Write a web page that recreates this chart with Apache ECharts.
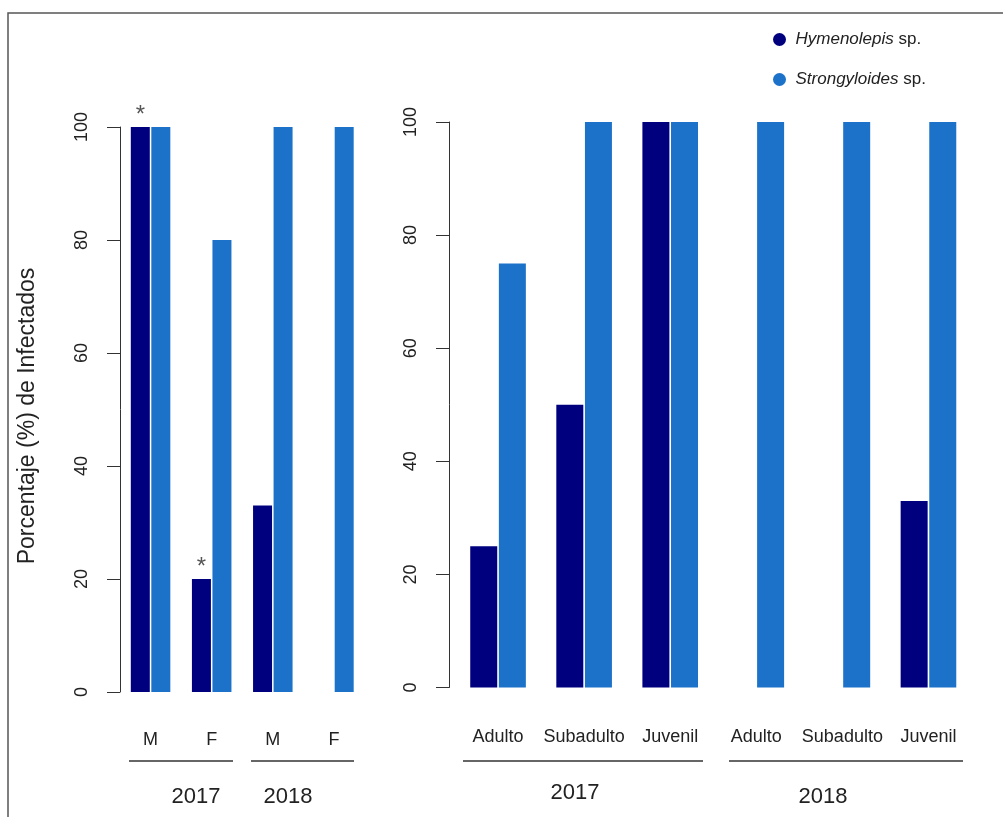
<!DOCTYPE html>
<html>
<head>
<meta charset="utf-8">
<script src="https://cdn.jsdelivr.net/npm/echarts@6/dist/echarts.min.js"></script>
<style>
  html, body { margin: 0; padding: 0; background: #fff; }
  #chart { width: 1003px; height: 817px; }
</style>
</head>
<body>
<div id="chart"></div>
<script>
// Infection percentage by sex (left) and by age class (right), 2017 and 2018
const sexCategories = ['M', 'F', 'M', 'F'];
const sexHymenolepis = [100, 20, 33, 0];
const sexStrongyloides = [100, 80, 100, 100];
const sexSignificant = [true, true, false, false];

const ageCategories = ['Adulto', 'Subadulto', 'Juvenil', 'Adulto', 'Subadulto', 'Juvenil'];
const ageHymenolepis = [25, 50, 100, 0, 0, 33];
const ageStrongyloides = [75, 100, 100, 100, 100, 100];

const yearLabels = ['2017', '2018'];
const yTicks = [0, 20, 40, 60, 80, 100];

const seriesNames = ['Hymenolepis sp.', 'Strongyloides sp.'];
const DARK = '#00007f';
const LIGHT = '#1c72c9';
const FONT = 'Liberation Sans, Arial, sans-serif';
const INK = '#222';

function withStars(values, flags) {
  return values.map((v, i) => flags[i]
    ? { value: v, label: { show: true, position: 'top', distance: 0, formatter: '*',
        fontSize: 24, color: '#555', fontFamily: FONT } }
    : v);
}

function valueAxis(gridIndex, offset) {
  return {
    type: 'value', gridIndex, min: yTicks[0], max: yTicks[yTicks.length - 1], interval: 20,
    offset,
    splitLine: { show: false },
    axisLine: { show: true, lineStyle: { color: '#333', width: 1 } },
    axisTick: { show: true, length: 13, lineStyle: { color: '#333', width: 1 } },
    axisLabel: { rotate: 90, margin: 29, fontSize: 18, color: INK, fontFamily: FONT }
  };
}

function categoryAxis(gridIndex, data, margin) {
  return {
    type: 'category', gridIndex, data,
    axisLine: { show: false }, axisTick: { show: false },
    axisLabel: { margin, fontSize: 18, color: INK, fontFamily: FONT, interval: 0 }
  };
}

const chart = echarts.init(document.getElementById('chart'), null, { renderer: 'canvas' });

const bracketStyle = { stroke: '#333', lineWidth: 1.5 };
function bracket(x1, x2, y) {
  return { type: 'line', shape: { x1, y1: y, x2, y2: y }, style: bracketStyle, silent: true };
}
function yearText(text, x, y) {
  return { type: 'text', x, y, style: { text, fill: INK, font: '22px ' + FONT,
    textAlign: 'center', textVerticalAlign: 'middle' }, silent: true };
}

chart.setOption({
  animation: false,
  backgroundColor: '#fff',
  legend: {
    data: seriesNames,
    orient: 'vertical',
    left: 768, top: 26,
    icon: 'circle',
    itemWidth: 22, itemHeight: 13,
    itemGap: 23,
    formatter: name => {
      const parts = name.split(' ');
      return '{i|' + parts[0] + '} {n|' + parts.slice(1).join(' ') + '}';
    },
    textStyle: {
      color: INK, fontFamily: FONT, fontSize: 17,
      rich: {
        i: { fontStyle: 'italic', fontSize: 17, fontFamily: FONT, color: INK, lineHeight: 19 },
        n: { fontSize: 17, fontFamily: FONT, color: INK, lineHeight: 19 }
      }
    }
  },
  grid: [
    { left: 120, top: 127, width: 244.5, height: 565 },
    { left: 455, top: 122, width: 516.5, height: 565.5 }
  ],
  xAxis: [
    categoryAxis(0, sexCategories, 39),
    categoryAxis(1, ageCategories, 41)
  ],
  yAxis: [
    valueAxis(0, 0),
    valueAxis(1, 6)
  ],
  series: [
    { name: seriesNames[0], type: 'bar', xAxisIndex: 0, yAxisIndex: 0,
      data: withStars(sexHymenolepis, sexSignificant),
      barWidth: 19, barGap: '8%', itemStyle: { color: DARK } },
    { name: seriesNames[1], type: 'bar', xAxisIndex: 0, yAxisIndex: 0,
      data: sexStrongyloides, barWidth: 19, barGap: '8%', itemStyle: { color: LIGHT } },
    { name: seriesNames[0], type: 'bar', xAxisIndex: 1, yAxisIndex: 1,
      data: ageHymenolepis, barWidth: 27, barGap: '6%', itemStyle: { color: DARK } },
    { name: seriesNames[1], type: 'bar', xAxisIndex: 1, yAxisIndex: 1,
      data: ageStrongyloides, barWidth: 27, barGap: '6%', itemStyle: { color: LIGHT } }
  ],
  graphic: [
    // outer frame
    { type: 'rect', shape: { x: 8, y: 13, width: 1200, height: 1000 },
      style: { fill: 'none', stroke: '#555', lineWidth: 1.5 }, silent: true },
    // y-axis title
    { type: 'text', x: 28, y: 416, rotation: Math.PI / 2,
      style: { text: 'Porcentaje (%) de Infectados', fill: INK, font: '23px ' + FONT,
        textAlign: 'center', textVerticalAlign: 'middle' }, silent: true },
    // year groupings, sex panel
    bracket(129, 233, 761), bracket(251, 354, 761),
    yearText(yearLabels[0], 196, 797), yearText(yearLabels[1], 288, 797),
    // year groupings, age panel
    bracket(463, 703, 761), bracket(729, 963, 761),
    yearText(yearLabels[0], 575, 793), yearText(yearLabels[1], 823, 797)
  ]
});
</script>
</body>
</html>
